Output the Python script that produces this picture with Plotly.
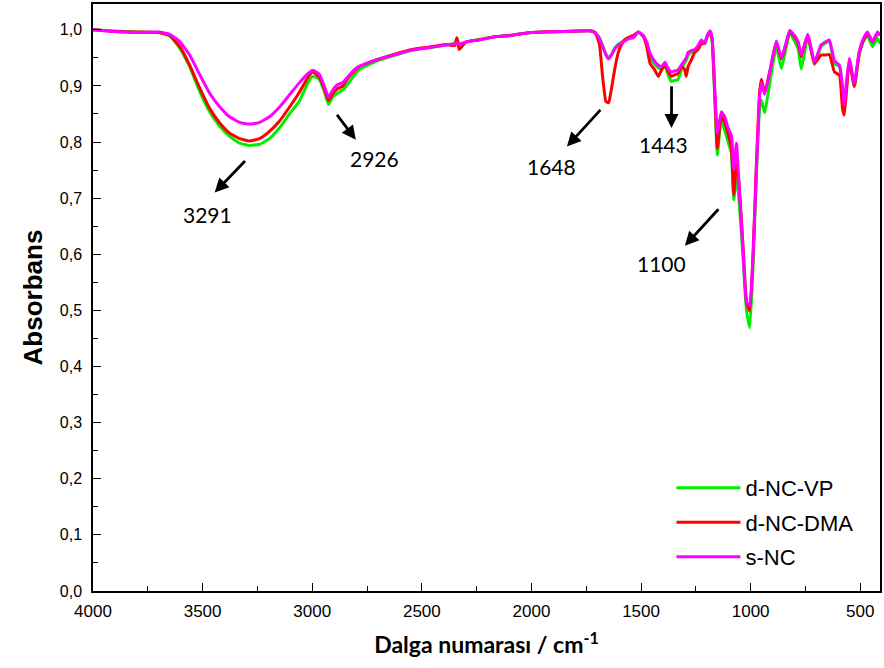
import plotly.graph_objects as go

# ---------------- data ----------------
wavenumber = [4000, 3900, 3800, 3700, 3650, 3604, 3559, 3513, 3468, 3422, 3377, 3331, 3286, 3240,
              3195, 3150, 3104, 3060, 3020, 2998, 2968, 2945, 2926, 2907, 2885, 2860, 2840, 2810,
              2786, 2740, 2695, 2620, 2543, 2470, 2391, 2350, 2340, 2330, 2300, 2240, 2160, 2100,
              2028, 1950, 1850, 1785, 1725, 1709, 1690, 1675, 1660, 1648, 1635, 1620, 1605, 1596,
              1575, 1558, 1535, 1512, 1490, 1474, 1459, 1440, 1421, 1405, 1391, 1375, 1362, 1345,
              1332, 1315, 1302, 1294, 1285, 1271, 1255, 1240, 1225, 1210, 1198, 1186, 1176, 1164,
              1152, 1141, 1133, 1118, 1103, 1088, 1077, 1065, 1054, 1034, 1019, 1004, 989, 974,
              959, 951, 936, 913, 883, 860, 840, 822, 800, 783, 769, 754, 739, 709, 679, 660, 641,
              618, 595, 581, 573, 562, 550, 527, 505, 485, 467, 444, 421, 411]

s_nc = [1.000, 0.997, 0.995, 0.996, 0.992, 0.979, 0.955, 0.920, 0.887, 0.863, 0.845, 0.835, 0.832, 0.835,
        0.845, 0.862, 0.884, 0.905, 0.922, 0.928, 0.921, 0.900, 0.880, 0.892, 0.902, 0.906, 0.915, 0.928,
        0.935, 0.942, 0.948, 0.956, 0.964, 0.968, 0.973, 0.975, 0.977, 0.974, 0.978, 0.982, 0.988, 0.990,
        0.994, 0.996, 0.997, 0.998, 0.998, 0.994, 0.985, 0.970, 0.955, 0.948, 0.955, 0.966, 0.972, 0.974,
        0.980, 0.984, 0.986, 0.996, 0.990, 0.978, 0.958, 0.945, 0.937, 0.935, 0.942, 0.930, 0.925, 0.927,
        0.928, 0.938, 0.945, 0.950, 0.960, 0.963, 0.965, 0.972, 0.982, 0.976, 0.990, 0.998, 0.985, 0.896,
        0.815, 0.840, 0.854, 0.845, 0.825, 0.812, 0.752, 0.798, 0.730, 0.600, 0.515, 0.508, 0.600, 0.748,
        0.884, 0.905, 0.885, 0.925, 0.980, 0.950, 0.975, 0.999, 0.990, 0.978, 0.955, 0.975, 0.992, 0.943,
        0.973, 0.978, 0.982, 0.945, 0.937, 0.900, 0.866, 0.910, 0.949, 0.905, 0.961, 0.985, 0.996, 0.979,
        0.996, 0.990]

d_nc_dma = [1.000, 0.997, 0.996, 0.995, 0.990, 0.970, 0.937, 0.896, 0.860, 0.834, 0.816, 0.806, 0.802, 0.806,
            0.819, 0.837, 0.862, 0.888, 0.915, 0.925, 0.916, 0.895, 0.874, 0.886, 0.895, 0.900, 0.912, 0.926,
            0.934, 0.942, 0.948, 0.957, 0.965, 0.969, 0.974, 0.972, 0.986, 0.965, 0.978, 0.982, 0.988, 0.990,
            0.994, 0.996, 0.997, 0.998, 0.998, 0.995, 0.975, 0.915, 0.872, 0.870, 0.895, 0.930, 0.958, 0.968,
            0.982, 0.986, 0.990, 0.996, 0.988, 0.970, 0.940, 0.930, 0.917, 0.930, 0.937, 0.925, 0.917, 0.920,
            0.922, 0.935, 0.930, 0.917, 0.935, 0.946, 0.960, 0.965, 0.975, 0.976, 0.988, 0.998, 0.985, 0.890,
            0.789, 0.830, 0.845, 0.835, 0.815, 0.790, 0.706, 0.760, 0.730, 0.610, 0.515, 0.499, 0.600, 0.760,
            0.890, 0.912, 0.888, 0.925, 0.978, 0.948, 0.972, 0.997, 0.988, 0.975, 0.952, 0.972, 0.990, 0.940,
            0.955, 0.955, 0.956, 0.925, 0.919, 0.860, 0.848, 0.895, 0.945, 0.899, 0.958, 0.982, 0.993, 0.978,
            0.995, 0.990]

d_nc_vp = [1.000, 0.998, 0.996, 0.995, 0.989, 0.967, 0.934, 0.890, 0.854, 0.828, 0.810, 0.798, 0.794, 0.796,
           0.806, 0.825, 0.850, 0.872, 0.905, 0.917, 0.912, 0.890, 0.867, 0.880, 0.887, 0.893, 0.902, 0.918,
           0.929, 0.938, 0.946, 0.955, 0.964, 0.968, 0.973, 0.976, 0.985, 0.975, 0.978, 0.983, 0.988, 0.990,
           0.994, 0.996, 0.997, 0.998, 0.998, 0.995, 0.986, 0.972, 0.957, 0.950, 0.956, 0.967, 0.974, 0.976,
           0.982, 0.986, 0.988, 0.996, 0.989, 0.976, 0.950, 0.940, 0.932, 0.930, 0.935, 0.918, 0.908, 0.910,
           0.911, 0.930, 0.940, 0.945, 0.955, 0.960, 0.963, 0.970, 0.980, 0.975, 0.988, 0.996, 0.980, 0.880,
           0.777, 0.820, 0.840, 0.820, 0.800, 0.780, 0.697, 0.740, 0.700, 0.590, 0.500, 0.469, 0.580, 0.740,
           0.860, 0.875, 0.852, 0.905, 0.970, 0.931, 0.965, 0.995, 0.980, 0.965, 0.930, 0.960, 0.988, 0.938,
           0.970, 0.976, 0.980, 0.940, 0.935, 0.890, 0.860, 0.905, 0.945, 0.900, 0.955, 0.980, 0.990, 0.970,
           0.985, 0.975]

series_names = ["d-NC-VP", "d-NC-DMA", "s-NC"]
series_colors = ["#00EE00", "#FF0000", "#FF00FF"]

y_tickvals = [0.0, 0.1, 0.2, 0.3, 0.4, 0.5, 0.6, 0.7, 0.8, 0.9, 1.0]
y_ticktext = ["0,0", "0,1", "0,2", "0,3", "0,4", "0,5", "0,6", "0,7", "0,8", "0,9", "1,0"]
x_tickvals = [4000, 3500, 3000, 2500, 2000, 1500, 1000, 500]
x_ticktext = ["4000", "3500", "3000", "2500", "2000", "1500", "1000", "500"]

# peak labels: (label, arrow tail x, tail y, head x, head y, text x, text y)
peak_labels = ["3291", "2926", "1648", "1443", "1100"]
arrow_tail_x = [3300, 2892, 1679, 1361, 1141]
arrow_tail_y = [0.769, 0.851, 0.860, 0.902, 0.683]
arrow_head_x = [3445, 2801, 1838, 1361, 1300]
arrow_head_y = [0.710, 0.804, 0.792, 0.825, 0.615]
label_x = [3477, 2717, 1908, 1399, 1408]
label_y = [0.671, 0.771, 0.757, 0.796, 0.583]

# ---------------- figure ----------------
fig = go.Figure()
for name, col, vals in zip(series_names, series_colors, [d_nc_vp, d_nc_dma, s_nc]):
    fig.add_trace(go.Scatter(x=wavenumber, y=vals, mode="lines", name=name,
                             legendgroup=name,
                             line=dict(color=col, width=3, shape="spline", smoothing=0.4)))

for i, lab in enumerate(peak_labels):
    fig.add_annotation(x=arrow_head_x[i], y=arrow_head_y[i], ax=arrow_tail_x[i], ay=arrow_tail_y[i],
                       xref="x", yref="y", axref="x", ayref="y", text="", showarrow=True,
                       arrowhead=2, arrowsize=1.0, arrowwidth=2.8, arrowcolor="black")
    fig.add_annotation(x=label_x[i], y=label_y[i], xref="x", yref="y", text=lab, showarrow=False,
                       font=dict(family="Lato, Open Sans, sans-serif", size=21, color="black"))

fig.update_layout(
    width=884, height=668,
    margin=dict(l=93, r=2, t=2, b=77),
    paper_bgcolor="white", plot_bgcolor="white",
    showlegend=True,
    legend=dict(x=0.735, y=0.2115, xanchor="left", yanchor="top",
                bgcolor="rgba(0,0,0,0)", font=dict(family="Liberation Sans, Arial", size=22, color="black"),
                tracegroupgap=3, itemwidth=64, traceorder="grouped"),
    xaxis=dict(range=[4000, 410], showgrid=False, zeroline=False,
               showline=True, linecolor="black", linewidth=1.5, mirror=True,
               ticks="inside", ticklen=8, tickwidth=1.3, tickcolor="black",
               tickvals=x_tickvals, ticktext=x_ticktext,
               minor=dict(tickvals=[3750, 3250, 2750, 2250, 1750, 1250, 750], ticks="inside",
                          ticklen=5, tickwidth=1.3, tickcolor="black"),
               tickfont=dict(family="Liberation Sans, Arial", size=17, color="black"),
               ticklabelstandoff=4,
               title=dict(text="Dalga numarası / cm<sup>-1</sup>", standoff=17,
                          font=dict(family="Lato, Open Sans, sans-serif", size=23, color="black", weight="bold"))),
    yaxis=dict(range=[0, 1.046], showgrid=False, zeroline=False,
               showline=True, linecolor="black", linewidth=1.5, mirror=True,
               ticks="inside", ticklen=8, tickwidth=1.3, tickcolor="black",
               tickvals=y_tickvals, ticktext=y_ticktext,
               minor=dict(tickvals=[0.05, 0.15, 0.25, 0.35, 0.45, 0.55, 0.65, 0.75, 0.85, 0.95],
                          ticks="inside", ticklen=5, tickwidth=1.3, tickcolor="black"),
               tickfont=dict(family="Liberation Sans, Arial", size=16, color="black"),
               ticklabelstandoff=6,
               title=dict(text="Absorbans", standoff=10,
                          font=dict(family="Liberation Sans, Arial", size=26, color="black", weight="bold"))),
)

fig.write_html("out.html")
